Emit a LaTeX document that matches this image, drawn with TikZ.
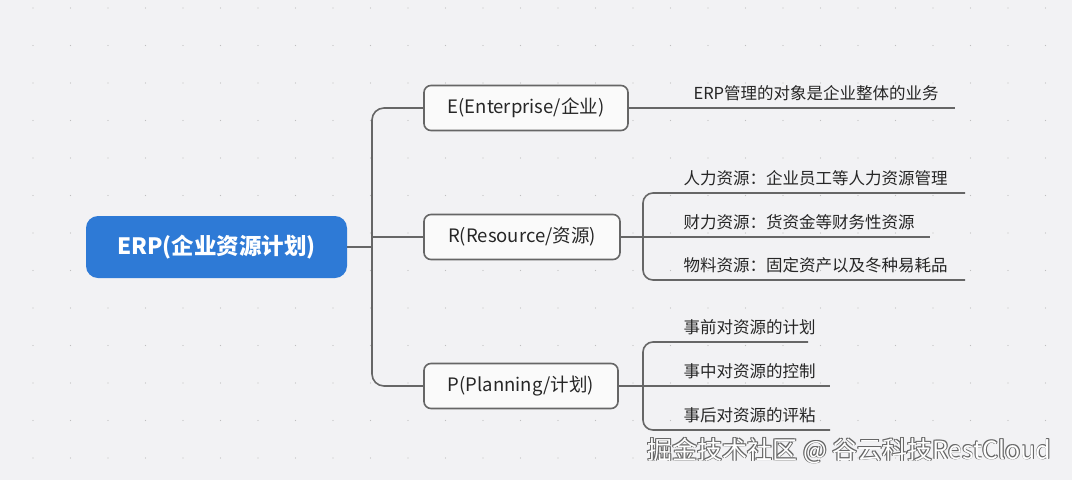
\documentclass[tikz,border=0pt]{standalone}
\usepackage{fontspec}
\setmainfont{Noto Sans CJK SC}
\begin{document}
\begin{tikzpicture}[x=1pt,y=-1pt,
  line/.style={draw=black!60,line width=1.6pt},
  br/.style={draw=black!60,line width=1.6pt,rounded corners=7pt,fill=white!96!gray,minimum height=45pt,font=\fontsize{18.5}{18.5}\selectfont,text=black!85,inner xsep=0pt},
  leaf/.style={font=\fontsize{16.5}{16.5}\selectfont,text=black!85,anchor=base west},
  wm/.style={anchor=base east,font=\fontsize{25}{25}\selectfont}]
\definecolor{bg}{HTML}{F2F2F4}
\definecolor{blue}{HTML}{2E7AD6}
\fill[bg] (0,0) rectangle (1072,480);
\useasboundingbox (0,0) rectangle (1072,480);
\foreach \i in {0,...,27}{\foreach \j in {0,...,12}{
  \fill[black!25] (33+37.5*\i,8+37.5*\j) circle (0.7);}}
\node[fill=blue,rounded corners=12pt,minimum width=261pt,minimum height=62pt,text=white,font=\bfseries\fontsize{22.5}{22.5}\selectfont] (root) at (216.5,247) {ERP(企业资源计划)};
\node[br,minimum width=204pt] (E) at (526,108) {E(Enterprise/企业)};
\node[br,minimum width=196pt] (R) at (522,237) {R(Resource/资源)};
\node[br,minimum width=194pt] (P) at (521,386) {P(Planning/计划)};
\coordinate (t) at (372,247);
\coordinate (tr) at (372,237);
\draw[line] (root.east) -- (t);
\draw[line,rounded corners=12pt] (E.west) -| (t) |- (P.west);
\draw[line] (tr) -- (R.west);
% E leaf
\coordinate (e1) at (955,108);
\draw[line] (E.east) -- (e1);
\node[leaf] (te1) at (690,99) {ERP管理的对象是企业整体的业务};
% R leaves
\coordinate (rt) at (643,237);
\coordinate (r1) at (965,193);\coordinate (r2) at (930,237);\coordinate (r3) at (965,280);
\draw[line] (R.east) -- (r2);
\draw[line,rounded corners=10pt] (r1) -| (rt) |- (r3);
\node[leaf] at (680,184) {人力资源：企业员工等人力资源管理};
\node[leaf] at (680,228) {财力资源：货资金等财务性资源};
\node[leaf] at (680,271) {物料资源：固定资产以及冬种易耗品};
% P leaves
\coordinate (pt) at (643,386);
\coordinate (p1) at (808,342);\coordinate (p2) at (830,386);\coordinate (p3) at (830,430);
\draw[line] (P.east) -- (p2);
\draw[line,rounded corners=10pt] (p1) -| (pt) |- (p3);
\node[leaf] at (680,333) {事前对资源的计划};
\node[leaf] at (680,377) {事中对资源的控制};
\node[leaf] at (680,421) {事后对资源的评粘};
% watermark
\foreach \dx/\dy in {0.8/0.8,-0.8/0.8,0.8/-0.8,-0.8/-0.8}
  \node[wm,text=black!60] at (1055+\dx,459+\dy) {掘金技术社区 @ 谷云科技RestCloud};
\node[wm,text=white] (wm) at (1055,459) {掘金技术社区 @ 谷云科技RestCloud};
\end{tikzpicture}
\end{document}
